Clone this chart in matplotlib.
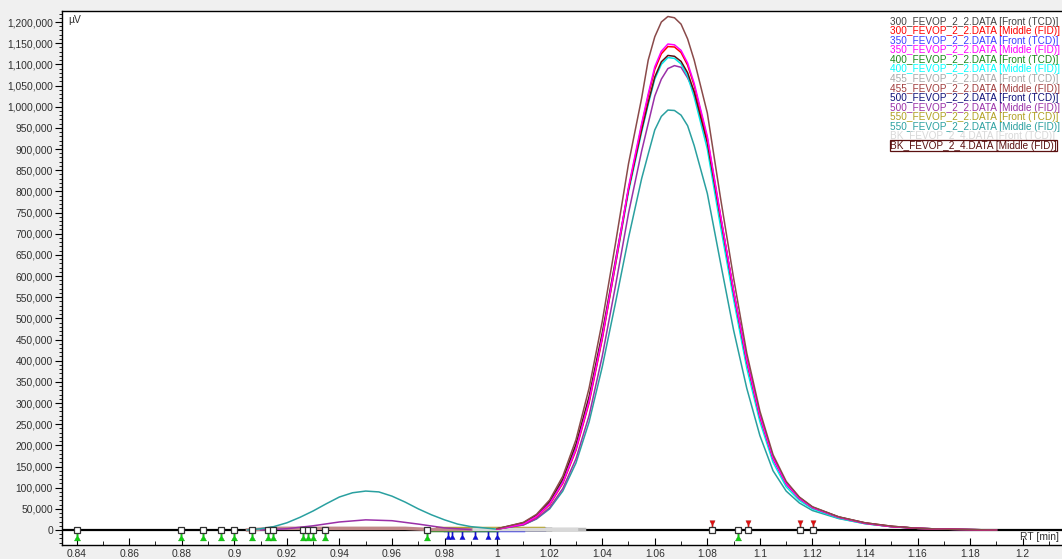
import matplotlib
matplotlib.use('Agg')
import numpy as np
import matplotlib.pyplot as plt
from matplotlib.ticker import MultipleLocator, FuncFormatter

plt.rcParams['font.family'] = ['Liberation Sans', 'DejaVu Sans']

# retention time grid for the main peak (min)
rt_main = [1.000, 1.010, 1.015, 1.020, 1.025, 1.030, 1.035, 1.040, 1.045, 1.050,
           1.055, 1.0575, 1.060, 1.0625, 1.065, 1.0675, 1.070, 1.0725, 1.075, 1.080,
           1.085, 1.090, 1.095, 1.100, 1.105, 1.110, 1.115, 1.120, 1.130, 1.140,
           1.150, 1.160, 1.170, 1.180, 1.190]

# signal in thousands of uV
mid_455 = [3, 18, 37, 71, 127, 213, 335, 492, 675, 865,
           1020, 1110, 1165, 1200, 1213, 1210, 1195, 1160, 1110, 985, 785, 595,
           418, 281, 178, 115, 78, 55, 31, 17, 9, 4, 2, 1, 0]
mid_300 = [2, 14, 31, 60, 110, 188, 300, 450, 625, 805,
           955, 1025, 1088, 1125, 1142, 1141, 1128, 1098, 1050, 925, 742, 563,
           400, 268, 170, 110, 75, 53, 30, 16, 8, 4, 2, 1, 0]
mid_350 = [2, 14, 32, 62, 112, 191, 304, 455, 630, 810,
           960, 1030, 1094, 1131, 1148, 1146, 1133, 1103, 1055, 930, 745, 565,
           402, 270, 170, 110, 75, 53, 30, 16, 8, 4, 2, 1, 0]
mid_400 = [2, 15, 32, 63, 114, 194, 306, 455, 625, 798,
           940, 1005, 1065, 1100, 1116, 1114, 1101, 1072, 1023, 900, 718, 545,
           383, 256, 160, 102, 70, 50, 28, 15, 8, 4, 2, 1, 0]
mid_bk = [3, 17, 35, 67, 120, 202, 315, 465, 635, 805,
          945, 1010, 1070, 1106, 1121, 1119, 1107, 1080, 1035, 915, 738, 562,
          400, 271, 172, 112, 77, 54, 31, 17, 9, 4, 2, 1, 0]
mid_500 = [2, 12, 27, 53, 98, 168, 270, 410, 575, 748,
           895, 960, 1025, 1065, 1090, 1097, 1093, 1068, 1035, 920, 740, 563,
           400, 268, 168, 108, 74, 52, 30, 16, 8, 4, 2, 1, 0]
mid_550 = [2, 12, 26, 50, 92, 158, 255, 385, 535, 690,
           830, 888, 945, 977, 992, 991, 980, 955, 908, 795, 632, 472,
           335, 223, 140, 92, 64, 46, 27, 15, 8, 4, 2, 1, 0]

# small early peak
rt_550_early = [0.905, 0.910, 0.915, 0.920, 0.925, 0.930, 0.935, 0.940, 0.945, 0.950,
                0.955, 0.960, 0.965, 0.970, 0.975, 0.980, 0.985, 0.990, 0.995]
mid_550_early = [0, 3, 8, 17, 30, 45, 62, 78, 88, 92, 90, 80, 66, 50, 36, 24, 14, 8, 5]
rt_500_early = [0.910, 0.920, 0.930, 0.940, 0.950, 0.960, 0.970, 0.980, 0.990]
mid_500_early = [0, 3, 10, 19, 24, 22, 14, 5, 1]
rt_455_early = [0.905, 0.915, 0.965, 0.975, 0.990]
mid_455_early = [0, 4, 4, 1, 1]

# front (TCD) traces, nearly flat
rt_front = {'300': [0.980, 1.020], '350': [0.980, 1.010], '400': [0.975, 1.000],
            '455': [1.000, 1.033], '500': [0.990, 1.018], '550': [0.977, 1.0175],
            'BK': [0.990, 1.030]}
val_front = {'300': [1.5, 1.5], '350': [1, 1], '400': [1, 1], '455': [2, 2],
             '500': [2.5, 2.5], '550': [4, 4], 'BK': [1.5, 1.5]}

# peak event marks
square_rt = [0.8400, 0.8798, 0.8880, 0.8950, 0.8997, 0.9067, 0.9130, 0.9149, 0.9263,
             0.9282, 0.9301, 0.9346, 0.9733, 1.0817, 1.0918, 1.0953, 1.1153, 1.1204]
green_rt = [0.8400, 0.8798, 0.8880, 0.8950, 0.8997, 0.9067, 0.9130, 0.9149, 0.9263,
            0.9282, 0.9301, 0.9346, 0.9733, 1.0918]
red_rt = [1.0817, 1.0953, 1.1153, 1.1204]
blue_rt = [0.9814, 0.9828, 0.9866, 0.9916, 0.9967, 0.9999]

legend_labels = ['300_FEVOP_2_2.DATA [Front (TCD)]', '300_FEVOP_2_2.DATA [Middle (FID)]',
                 '350_FEVOP_2_2.DATA [Front (TCD)]', '350_FEVOP_2_2.DATA [Middle (FID)]',
                 '400_FEVOP_2_2.DATA [Front (TCD)]', '400_FEVOP_2_2.DATA [Middle (FID)]',
                 '455_FEVOP_2_2.DATA [Front (TCD)]', '455_FEVOP_2_2.DATA [Middle (FID)]',
                 '500_FEVOP_2_2.DATA [Front (TCD)]', '500_FEVOP_2_2.DATA [Middle (FID)]',
                 '550_FEVOP_2_2.DATA [Front (TCD)]', '550_FEVOP_2_2.DATA [Middle (FID)]',
                 'BK_FEVOP_2_4.DATA [Front (TCD)]', 'BK_FEVOP_2_4.DATA [Middle (FID)]']
legend_colors = ['#404040', '#ff0000', '#3c3cff', '#ff00ff', '#1a8a1a', '#00ffff',
                 '#a8a8a8', '#a03c3c', '#10107a', '#9a30a8', '#b0a020', '#2aa0a0',
                 '#d8d8d8', '#5a1010']

front_colors = {'300': '#404040', '350': '#3c3cff', '400': '#1a8a1a', '455': '#b8b8b8',
                '500': '#10107a', '550': '#b0a020', 'BK': '#d8d8d8'}

fig = plt.figure(figsize=(10.62, 5.59), dpi=100, facecolor='#f0f0f0')
ax = fig.add_axes([62 / 1062, 14 / 559, 1 - 62 / 1062, 534 / 559])
ax.set_facecolor('white')

k = 1000.0
ax.axhline(0, color='black', lw=1.6, zorder=1)

for key in rt_front:
    ax.plot(rt_front[key], np.array(val_front[key]) * k, color=front_colors[key], lw=2.5, zorder=2)

ax.plot(rt_455_early, np.array(mid_455_early) * k, color='#c08888', lw=2.5, zorder=2)
ax.plot(rt_500_early, np.array(mid_500_early) * k, color='#9a30a8', lw=1.1, zorder=3)
ax.plot(rt_550_early + rt_main, np.array(mid_550_early + mid_550) * k, color='#2aa0a0', lw=1.1, zorder=3)
ax.plot(rt_main, np.array(mid_500) * k, color='#9a30a8', lw=1.1, zorder=3)
ax.plot(rt_main, np.array(mid_400) * k, color='#00e8e8', lw=1.1, zorder=3)
ax.plot(rt_main, np.array(mid_bk) * k, color='#5a1010', lw=1.1, zorder=3)
ax.plot(rt_main, np.array(mid_300) * k, color='#ff0000', lw=1.1, zorder=3)
ax.plot(rt_main, np.array(mid_350) * k, color='#ff00ff', lw=1.1, zorder=3)
ax.plot(rt_main, np.array(mid_455) * k, color='#8a4a4a', lw=1.1, zorder=3)

# pin shaped markers hanging from the baseline
pin_down = [(-0.35, -1), (0.35, -1), (0.35, -3.2), (1.6, -5.5), (-1.6, -5.5), (-0.35, -3.2), (-0.35, -1)]
pin_up = [(-0.35, 1.5), (0.35, 1.5), (0.35, 3.5), (1.6, 6), (-1.6, 6), (-0.35, 3.5), (-0.35, 1.5)]
ax.plot(green_rt, np.zeros(len(green_rt)), ls='none', marker=pin_down, ms=15,
        color='#10d010', mec='#10a010', mew=0.3, zorder=4, clip_on=False)
ax.plot(blue_rt, np.zeros(len(blue_rt)), ls='none', marker=pin_down, ms=13,
        color='#1010e0', mec='#1010a0', mew=0.3, zorder=4)
ax.plot(red_rt, np.zeros(len(red_rt)), ls='none', marker=pin_up, ms=14,
        color='#e01010', mec='#a01010', mew=0.3, zorder=4)
ax.plot(square_rt, np.zeros(len(square_rt)), ls='none', marker='s', ms=5,
        mfc='white', mec='#303030', mew=0.9, zorder=5)

ax.set_xlim(0.83444, 1.21496)
ax.set_ylim(-35400, 1226000)

ax.xaxis.set_major_locator(MultipleLocator(0.02))
ax.xaxis.set_minor_locator(MultipleLocator(0.01))
ax.xaxis.set_major_formatter(FuncFormatter(lambda v, p: '{:g}'.format(round(v, 2))))
ax.yaxis.set_major_locator(MultipleLocator(50000))
ax.yaxis.set_minor_locator(MultipleLocator(10000))
ax.yaxis.set_major_formatter(FuncFormatter(lambda v, p: '{:,.0f}'.format(v)))

ax.tick_params(axis='y', which='major', direction='out', length=5, width=0.8,
               labelsize=7.4, labelcolor='#303030', pad=1.5)
ax.tick_params(axis='y', which='minor', direction='out', length=2.5, width=0.6)
ax.tick_params(axis='x', which='major', direction='in', length=5, width=0.8,
               labelsize=7.4, labelcolor='#303030', pad=3.2)
ax.tick_params(axis='x', which='minor', direction='in', length=3, width=0.6)

ax.spines['right'].set_visible(False)
for s in ['left', 'top', 'bottom']:
    ax.spines[s].set_linewidth(1.0)
    ax.spines[s].set_color('black')

fig.text(68 / 1062, 1 - 20 / 559, 'µV', fontsize=7.4, color='#303030', va='center', ha='left')
fig.text(1059 / 1062, 1 - 537 / 559, 'RT [min]', fontsize=7.4, color='#303030', va='center', ha='right')

for i, (lab, col) in enumerate(zip(legend_labels, legend_colors)):
    y = 1 - (21.7 + i * 9.56) / 559
    kw = {}
    if lab.startswith('BK') and 'Middle' in lab:
        kw['bbox'] = dict(boxstyle='square,pad=0.05', fc='none', ec='#5a1010', lw=0.9)
    fig.text(890 / 1062, y, lab, fontsize=7.2, color=col, va='center', ha='left', **kw)

fig.savefig('out.png', dpi=100, facecolor=fig.get_facecolor())
